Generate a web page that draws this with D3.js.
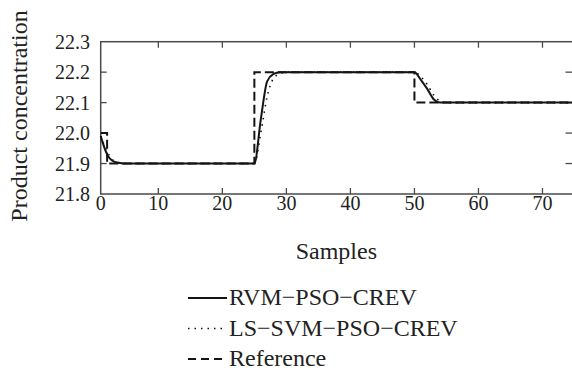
<!DOCTYPE html>
<html>
<head>
<meta charset="utf-8">
<script src="https://cdn.jsdelivr.net/npm/d3@7"></script>
<style>
  html, body { margin: 0; padding: 0; background: #fff; }
</style>
</head>
<body>
<div id="chart"></div>
<script>
// Sample index -> product concentration
const rvmX = [1, 2, 3, 4, 5, 25, 26, 27, 28, 29, 50, 51, 52, 53, 54, 75];
const rvmY = [21.99, 21.93, 21.907, 21.902, 21.9, 21.9, 22.044, 22.17, 22.194, 22.2, 22.2, 22.175, 22.145, 22.111, 22.1, 22.1];

const lssvmX = [1, 2, 3, 4, 5, 25, 26, 27, 28, 29, 30, 50, 51, 52, 53, 54, 55, 75];
const lssvmY = [21.99, 21.94, 21.91, 21.902, 21.9, 21.9, 22.0, 22.12, 22.18, 22.195, 22.2, 22.2, 22.185, 22.16, 22.125, 22.105, 22.1, 22.1];

const refX = [1, 2, 25, 50, 75];
const refY = [22.0, 21.9, 22.2, 22.1, 22.1];

const xTickValues = [1, 10, 20, 30, 40, 50, 60, 70];
const xTickLabels = ["0", "10", "20", "30", "40", "50", "60", "70"];
const yTickValues = [21.8, 21.9, 22.0, 22.1, 22.2, 22.3];

const seriesNames = ["RVM\u2212PSO\u2212CREV", "LS\u2212SVM\u2212PSO\u2212CREV", "Reference"];

const width = 572, height = 374;
const box = { left: 100.7, right: 574.5, top: 41.7, bottom: 194 };
const serif = "'Liberation Serif', 'Times New Roman', Times, 'DejaVu Serif', serif";

const svg = d3.select('#chart').append('svg')
    .attr('width', width)
    .attr('height', height)
    .attr('font-family', serif)
    .style('font-family', serif);

const x = d3.scaleLinear().domain([1, 75]).range([box.left, box.right]);
const y = d3.scaleLinear().domain([21.8, 22.3]).range([box.bottom, box.top]);

const ink = '#141414';
const textColor = '#222';
const axisColor = '#4a4a4a';

// plot box
svg.append('rect')
    .attr('x', box.left).attr('y', box.top)
    .attr('width', box.right - box.left).attr('height', box.bottom - box.top)
    .attr('fill', 'none')
    .attr('stroke', axisColor)
    .attr('stroke-width', 1.5);

// inward ticks on all four sides
const tick = 6;
const ticks = svg.append('g').attr('stroke', axisColor).attr('stroke-width', 1.3);
xTickValues.slice(1).forEach(v => {
    ticks.append('line').attr('x1', x(v)).attr('x2', x(v)).attr('y1', box.bottom).attr('y2', box.bottom - tick);
    ticks.append('line').attr('x1', x(v)).attr('x2', x(v)).attr('y1', box.top).attr('y2', box.top + tick);
});
yTickValues.slice(1, -1).forEach(v => {
    ticks.append('line').attr('x1', box.left).attr('x2', box.left + tick).attr('y1', y(v)).attr('y2', y(v));
    ticks.append('line').attr('x1', box.right - 9).attr('x2', box.right - 2.5).attr('y1', y(v)).attr('y2', y(v));
});

// tick labels
svg.append('g').selectAll('text')
    .data(xTickValues)
    .join('text')
    .attr('x', d => x(d))
    .attr('y', box.bottom + 16)
    .attr('text-anchor', 'middle')
    .attr('font-size', '20px')
    .attr('fill', textColor)
    .text((d, i) => xTickLabels[i]);

svg.append('g').selectAll('text')
    .data(yTickValues)
    .join('text')
    .attr('x', 90)
    .attr('y', d => y(d) + 7)
    .attr('text-anchor', 'end')
    .attr('font-size', '20px')
    .attr('fill', textColor)
    .text(d => d.toFixed(1));

// axis titles
svg.append('text')
    .attr('x', (box.left + 572) / 2)
    .attr('y', 259)
    .attr('text-anchor', 'middle')
    .attr('font-size', '24px')
    .attr('fill', textColor)
    .text('Samples');

svg.append('text')
    .attr('transform', 'translate(27,116) rotate(-90)')
    .attr('text-anchor', 'middle')
    .attr('font-size', '24px')
    .attr('fill', textColor)
    .text('Product concentration');

// lines
const smooth = d3.line().x(d => x(d[0])).y(d => y(d[1])).curve(d3.curveMonotoneX);
const steps = d3.line().x(d => x(d[0])).y(d => y(d[1])).curve(d3.curveStepAfter);

const plot = svg.append('g');

plot.append('path')
    .attr('d', smooth(d3.zip(rvmX, rvmY)))
    .attr('fill', 'none')
    .attr('stroke', ink)
    .attr('stroke-width', 2);

plot.append('path')
    .attr('d', smooth(d3.zip(lssvmX, lssvmY)))
    .attr('fill', 'none')
    .attr('stroke', ink)
    .attr('stroke-width', 1.6)
    .attr('stroke-dasharray', '1.5,5');

plot.append('path')
    .attr('d', steps(d3.zip(refX, refY)))
    .attr('fill', 'none')
    .attr('stroke', ink)
    .attr('stroke-width', 2)
    .attr('stroke-dasharray', '9,4');

// legend
const legendStyles = [
    { width: 2, dash: null },
    { width: 1.6, dash: '1.5,5' },
    { width: 2, dash: '8,5' }
];
const legend = svg.append('g');
seriesNames.forEach((name, i) => {
    const base = 305 + i * 30.5;
    legend.append('line')
        .attr('x1', 188).attr('x2', 227)
        .attr('y1', base - 7).attr('y2', base - 7)
        .attr('stroke', ink)
        .attr('stroke-width', legendStyles[i].width)
        .attr('stroke-dasharray', legendStyles[i].dash);
    legend.append('text')
        .attr('x', 229)
        .attr('y', base)
        .attr('font-size', '24px')
        .attr('fill', textColor)
        .text(name);
});
</script>
</body>
</html>
